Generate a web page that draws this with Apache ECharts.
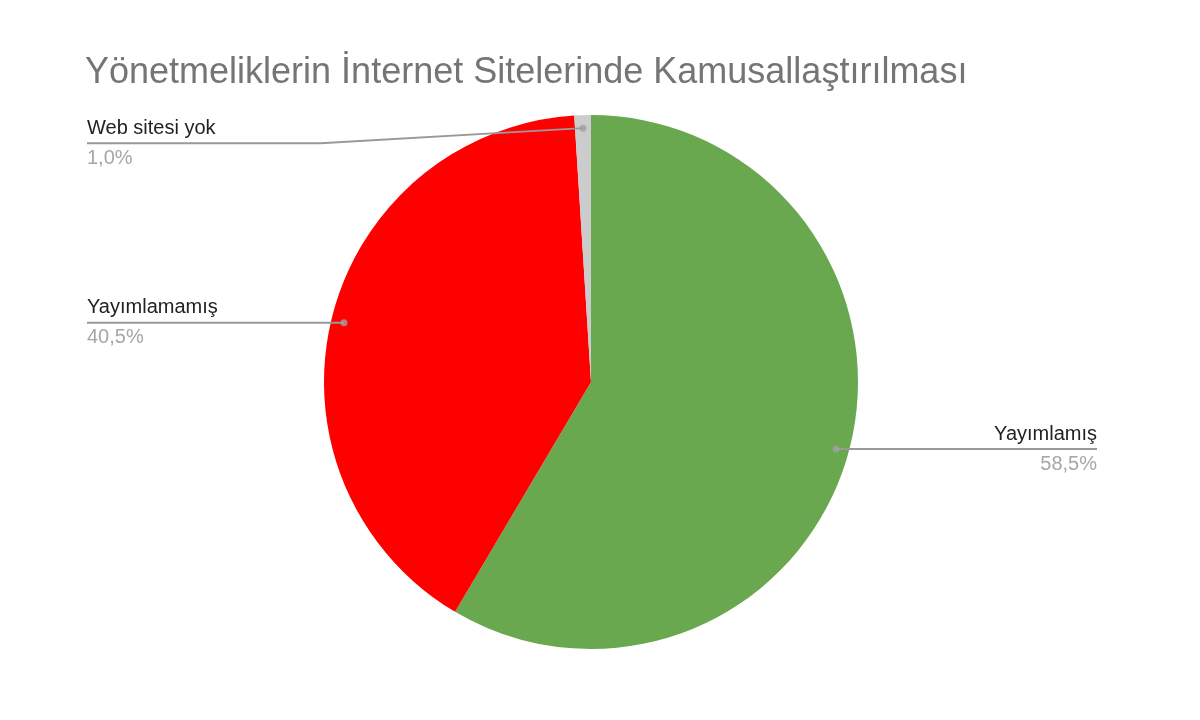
<!DOCTYPE html>
<html><head><meta charset="utf-8">
<script src="https://cdn.jsdelivr.net/npm/echarts@6/dist/echarts.min.js"></script>
<style>html,body{margin:0;padding:0;background:#fff}#c{width:1200px;height:720px}</style>
</head><body><div id="c"></div>
<script>
const titleText = 'Yönetmeliklerin İnternet Sitelerinde Kamusallaştırılması';
const categories = ['Yayımlamış', 'Yayımlamamış', 'Web sitesi yok'];
const values = [58.5, 40.5, 1.0];
const colors = ['#6aa84f', '#ff0000', '#cccccc'];

const total = values.reduce((a, b) => a + b, 0);
let acc = 0;
const mids = values.map(v => { const m = (acc + v / 2) / total * 100; acc += v; return m; });

const chart = echarts.init(document.getElementById('c'), null, {renderer: 'canvas'});
const FONT = 'Liberation Sans, Arial, sans-serif';
const pieData = categories.map((n, i) => ({name: n, value: values[i], itemStyle: {color: colors[i]}}));
const labelData = categories.map((n, i) => ({
  name: n, value: values[i],
  label: i === 0 ? {edgeDistance: 103} : {edgeDistance: 87}
}));

chart.setOption({
  animation: false,
  backgroundColor: '#ffffff',
  title: {
    text: titleText, left: 80, top: 50,
    textStyle: {fontFamily: FONT, fontSize: 36, fontWeight: 'normal', color: '#757575'}
  },
  polar: {center: [591, 382], radius: 254},
  radiusAxis: {type: 'value', min: 0, max: 1, show: false},
  angleAxis: {type: 'value', min: 0, max: 100, startAngle: 90, clockwise: true, show: false},
  series: [
    {
      type: 'pie', center: [591, 382], radius: 267, startAngle: 90, clockwise: true,
      silent: true, label: {show: false}, labelLine: {show: false},
      itemStyle: {borderWidth: 0}, data: pieData, z: 1
    },
    {
      type: 'pie', center: [591, 382], radius: 254, startAngle: 90, clockwise: true,
      silent: true, z: 2,
      itemStyle: {color: 'rgba(0,0,0,0)', borderWidth: 0},
      label: {
        show: true, position: 'outside', alignTo: 'edge', edgeDistance: 87,
        formatter: p => '{n|' + p.name + '}\n{p|' + p.value.toFixed(1).replace('.', ',') + '%}',
        rich: {
          n: {fontFamily: FONT, fontSize: 20, lineHeight: 30, color: '#222222'},
          p: {fontFamily: FONT, fontSize: 20, lineHeight: 30, color: '#a6a6a6'}
        }
      },
      labelLine: {show: true, length: 0, length2: 20, lineStyle: {color: '#999999', width: 2}},
      labelLayout: function (params) {
        const pts = params.labelLinePoints;
        const r = params.labelRect;
        if (!pts) return {};
        const shift = params.dataIndex === 2 ? 15 : 0;
        const midY = r.y + r.height / 2 + shift;
        const last = pts[pts.length - 1];
        const isLeft = (r.x + r.width / 2) < pts[0][0];
        const farX = isLeft ? r.x : r.x + r.width;
        const elbowX = shift ? last[0] + 100 : last[0];
        return {
          y: midY,
          labelLinePoints: [pts[0], [elbowX, midY], [farX, midY]]
        };
      },
      data: labelData
    },
    {
      type: 'scatter', coordinateSystem: 'polar', silent: true, z: 3,
      symbol: 'circle', symbolSize: 7,
      itemStyle: {color: '#a0a0a0'},
      data: mids.map(m => [1, m])
    }
  ]
});
</script></body></html>
